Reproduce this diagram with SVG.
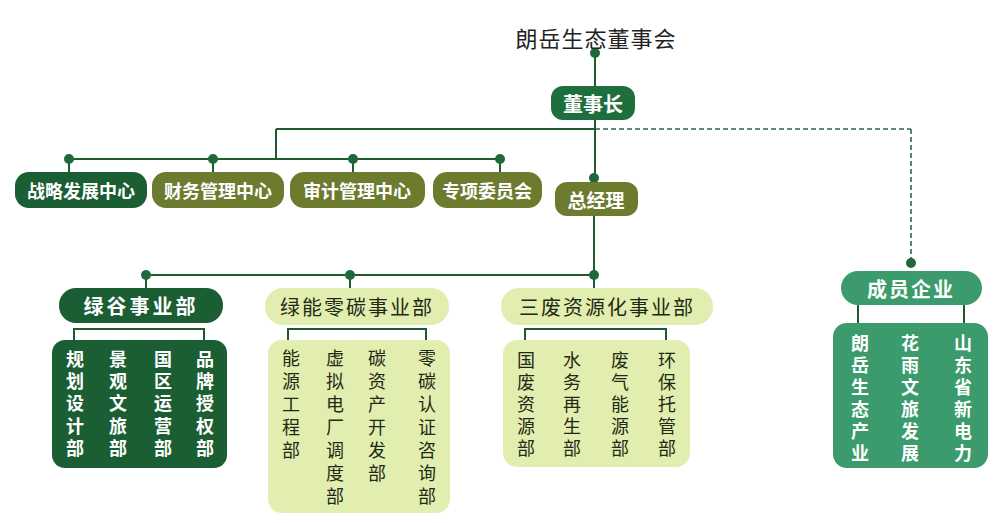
<svg xmlns="http://www.w3.org/2000/svg" width="999" height="523" viewBox="0 0 999 523">
<style>
text{font-family:"Noto Sans CJK SC","Noto Sans",sans-serif;text-anchor:middle;dominant-baseline:central}
.ln{stroke:#1f5a30;stroke-width:2;fill:none}
.dash{stroke:#2f6a45;stroke-width:1.6;fill:none;stroke-dasharray:5 3}
.dot{fill:#1d6a38}
.dk{fill:#1b5e34}
.ol{fill:#6d7b2f}
.lt{fill:#e2eeb0}
.mb{fill:#3b9b6c}
.w{fill:#fff;font-size:18px;font-weight:bold}
.b{fill:#1e2a14;font-size:19px}
.v{writing-mode:vertical-rl;text-anchor:start;font-size:18px}
.sw{fill:#fff;font-weight:bold;letter-spacing:4.3px}
.sb{fill:#1e2a14;letter-spacing:5px}
.sb2{fill:#1e2a14;letter-spacing:4px}
.sm{fill:#fff;font-weight:bold;letter-spacing:4px}
</style>
<rect width="999" height="523" fill="#fff"/>
<g id="connectors">
<line class="ln" x1="595" y1="53" x2="595" y2="86"/>
<line class="ln" x1="276" y1="129" x2="595" y2="129"/>
<line class="dash" x1="595" y1="129" x2="911" y2="129"/>
<line class="dash" x1="911" y1="129" x2="911" y2="262"/>
<line class="ln" x1="595" y1="119" x2="595" y2="182"/>
<line class="ln" x1="276" y1="129" x2="276" y2="159"/>
<line class="ln" x1="69" y1="159" x2="500" y2="159"/>
<line class="ln" x1="69" y1="159" x2="69" y2="172"/>
<line class="ln" x1="213" y1="159" x2="213" y2="172"/>
<line class="ln" x1="353" y1="159" x2="353" y2="172"/>
<line class="ln" x1="500" y1="159" x2="500" y2="172"/>
<line class="ln" x1="594" y1="215" x2="594" y2="288"/>
<line class="ln" x1="146" y1="275" x2="594" y2="275"/>
<line class="ln" x1="146" y1="275" x2="146" y2="288"/>
<line class="ln" x1="350" y1="275" x2="350" y2="288"/>
<polyline class="ln" points="74,341 74,329 204,329 204,341"/>
<polyline class="ln" points="288,343 288,329 426,329 426,343"/>
<polyline class="ln" points="525,343 525,329 666,329 666,343"/>
<line class="ln" x1="858" y1="305" x2="858" y2="323"/>
<line class="ln" x1="964" y1="305" x2="964" y2="323"/>
<circle class="dot" cx="595" cy="53" r="5"/>
<circle class="dot" cx="69" cy="159" r="5"/>
<circle class="dot" cx="213" cy="159" r="5"/>
<circle class="dot" cx="353" cy="159" r="5"/>
<circle class="dot" cx="500" cy="159" r="5"/>
<circle class="dot" cx="594" cy="178" r="5"/>
<circle class="dot" cx="146" cy="275" r="5"/>
<circle class="dot" cx="350" cy="275" r="5"/>
<circle class="dot" cx="594" cy="275" r="5"/>
<circle class="dot" cx="911" cy="263" r="5"/>
</g>
<g id="board"><text x="596" y="37" style="fill:#222;font-size:22px;letter-spacing:1px">朗岳生态董事会</text></g>
<g id="chairman"><rect x="551" y="86" width="84" height="34" rx="12" fill="#1f6e3e"/><text class="w" x="593" y="103" style="font-size:20px">董事长</text></g>
<g id="strategy"><rect class="dk" x="15" y="172" width="132" height="36" rx="14"/><text class="w" x="81" y="190">战略发展中心</text></g>
<g id="finance"><rect class="ol" x="152" y="172" width="132" height="36" rx="14"/><text class="w" x="218" y="190">财务管理中心</text></g>
<g id="audit"><rect class="ol" x="290" y="172" width="135" height="36" rx="14"/><text class="w" x="357" y="190">审计管理中心</text></g>
<g id="committee"><rect class="ol" x="433" y="172" width="109" height="36" rx="14"/><text class="w" x="487" y="190">专项委员会</text></g>
<g id="gm"><rect class="ol" x="555" y="182" width="83" height="34" rx="12"/><text class="w" x="596" y="199" style="font-size:19px">总经理</text></g>
<g id="lvgu"><rect class="dk" x="59" y="288" width="164" height="35" rx="17"/><text class="w" x="141" y="305" style="font-size:20px;letter-spacing:3px">绿谷事业部</text></g>
<g id="lvneng"><rect class="lt" x="265" y="288" width="184" height="37" rx="18"/><text class="b" x="357" y="306" style="font-size:20px;letter-spacing:2px">绿能零碳事业部</text></g>
<g id="sanfei"><rect class="lt" x="501" y="288" width="212" height="37" rx="18"/><text class="b" x="607" y="306" style="font-size:20px;letter-spacing:2px">三废资源化事业部</text></g>
<g id="member"><rect class="mb" x="841" y="271" width="141" height="34" rx="17"/><text class="w" x="911" y="288" style="font-size:20px;letter-spacing:2px">成员企业</text></g>
<g id="lvgu-units"><rect class="dk" x="52" y="340" width="175" height="128" rx="13"/>
<text class="v sw" x="75" y="350">规划设计部</text>
<text class="v sw" x="118" y="350">景观文旅部</text>
<text class="v sw" x="163" y="350">国区运营部</text>
<text class="v sw" x="205" y="350">品牌授权部</text>
</g>
<g id="lvneng-units"><rect class="lt" x="268" y="340" width="182" height="173" rx="14"/>
<text class="v sb" x="291" y="349">能源工程部</text>
<text class="v sb" x="335" y="349">虚拟电厂调度部</text>
<text class="v sb" x="377" y="349">碳资产开发部</text>
<text class="v sb" x="427" y="349">零碳认证咨询部</text>
</g>
<g id="sanfei-units"><rect class="lt" x="503" y="340" width="187" height="127" rx="14"/>
<text class="v sb2" x="526" y="351">国废资源部</text>
<text class="v sb2" x="572" y="351">水务再生部</text>
<text class="v sb2" x="620" y="351">废气能源部</text>
<text class="v sb2" x="667" y="351">环保托管部</text>
</g>
<g id="member-units"><rect class="mb" x="833" y="323" width="155" height="145" rx="14"/>
<text class="v sm" x="860" y="334">朗岳生态产业</text>
<text class="v sm" x="910" y="334">花雨文旅发展</text>
<text class="v sm" x="963" y="334">山东省新电力</text>
</g>
</svg>
